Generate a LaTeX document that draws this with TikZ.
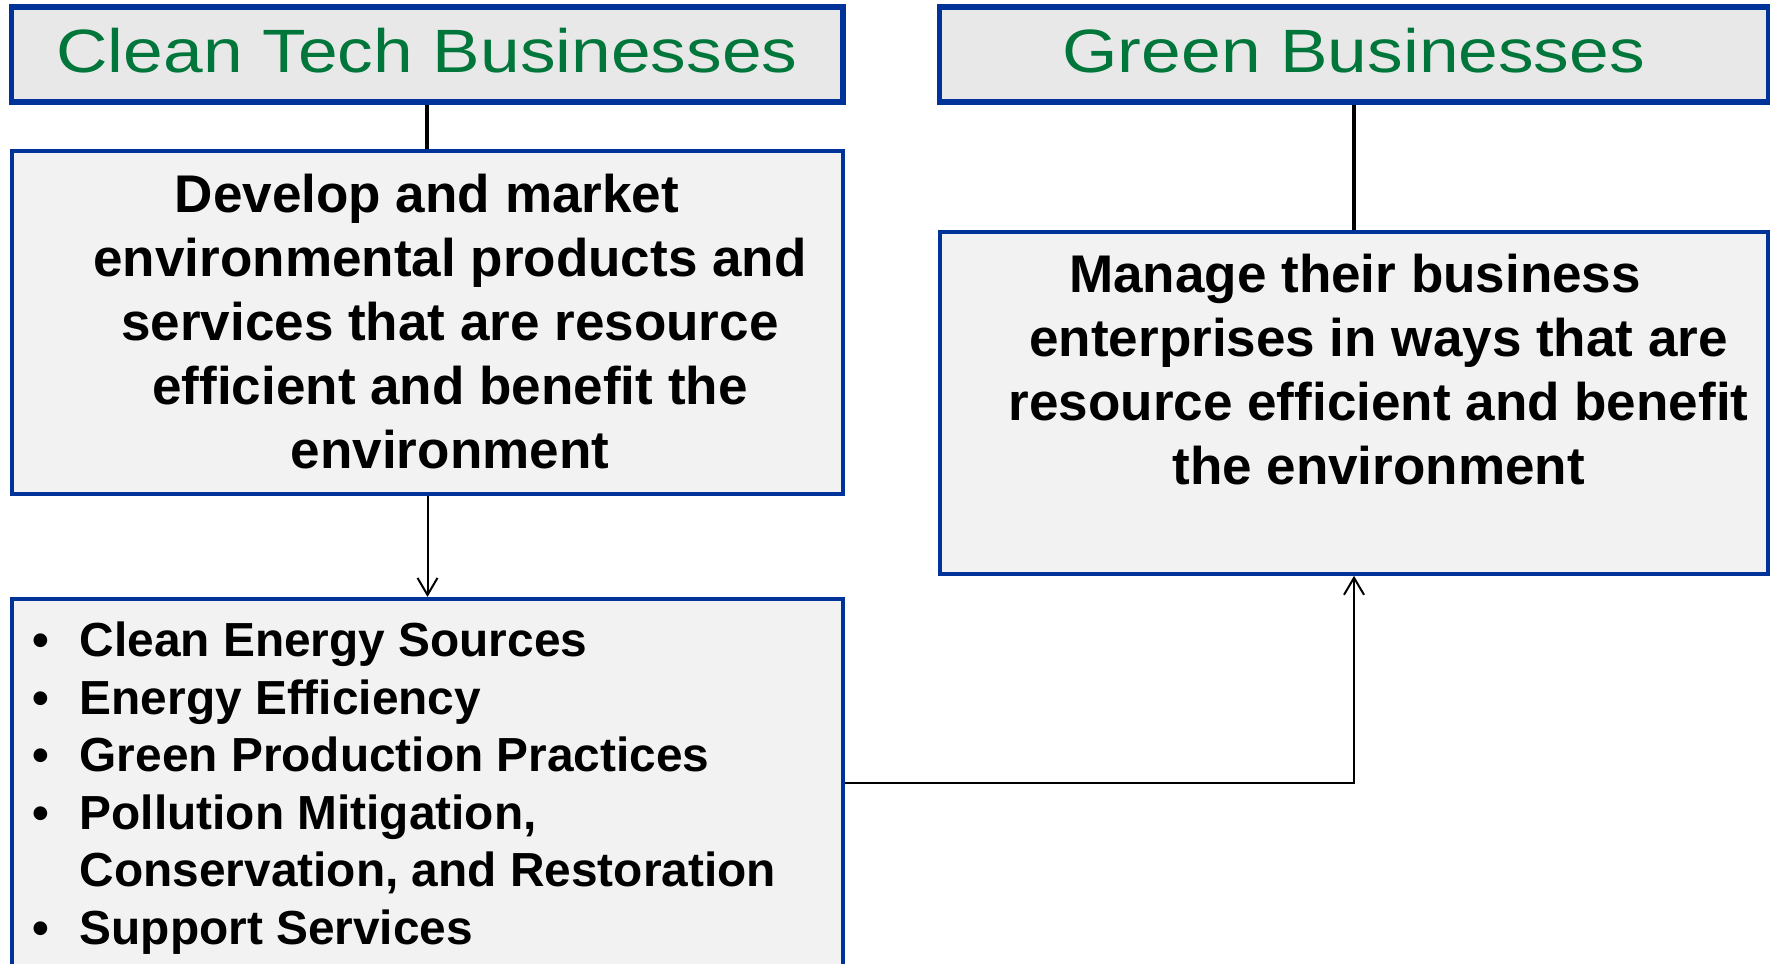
\documentclass[tikz,border=0pt]{standalone}
\usepackage{fontspec}
\setmainfont{Liberation Sans}
\newfontfamily\headfont[FakeStretch=1.165]{Liberation Sans}
\usetikzlibrary{arrows.meta}
\definecolor{boxblue}{RGB}{0,51,153}
\definecolor{headgreen}{RGB}{0,118,58}
\definecolor{headgray}{RGB}{232,232,232}
\definecolor{boxgray}{RGB}{242,242,242}
\newcommand\itemdot{\llap{\makebox[0.47cm][l]{\textbullet}}}

\begin{document}
\begin{tikzpicture}[x=0.01cm,y=-0.01cm]
\tikzstyle{every node}+=[inner sep=0pt]
\tikzstyle{headbox}=[draw=boxblue,fill=headgray,line width=0.055cm,minimum height=0.95cm,text=headgreen,font=\headfont\fontsize{17.4}{20}\selectfont,text height=0.445cm,text depth=0.09cm]
\tikzstyle{bodybox}=[draw=boxblue,fill=boxgray,line width=0.04cm,minimum width=8.31cm]
\tikzstyle{bodytext}=[anchor=north,align=center,font=\bfseries\fontsize{15.08}{18.21}\selectfont]
\tikzstyle{listtext}=[anchor=north west,align=left,font=\bfseries\fontsize{13.6}{16.39}\selectfont]
\tikzstyle{stemline}=[line width=0.04cm]
\tikzstyle{linkarrow}=[line width=0.02cm,-{Straight Barb[length=0.17cm,width=0.2cm]}]
\useasboundingbox (0,0) rectangle (1770,964);
\clip (0,0) rectangle (1770,964);
\node[headbox,minimum width=8.31cm] (cleanhead) at (427,54.5) {Clean Tech Businesses};
\node[headbox,minimum width=8.285cm] (greenhead) at (1353.75,54.5) {Green Businesses};
\node[bodybox,minimum height=3.425cm] (cleanbox) at (427.5,322.75) {};
\node[bodybox,minimum width=8.28cm,minimum height=3.417cm] (greenbox) at (1354,402.85) {};
\node[bodybox,minimum height=3.67cm] (sectorbox) at (427.5,782.5) {};
\node[bodytext] (cleantext) at (450,173.7) {Develop and market\rule{0.46cm}{0pt}\\environmental products and\\services that are resource\\efficient and benefit the\\environment};
\node[bodytext] (greentext) at (1378.6,253.7) {Manage their business\rule{0.47cm}{0pt}\\enterprises in ways that are\\resource efficient and benefit\\the environment};
\node[listtext] (sectorlist) at (79,621) {\itemdot Clean Energy Sources\\\itemdot Energy Efficiency\\\itemdot Green Production Practices\\\itemdot Pollution Mitigation,\\Conservation, and Restoration\\\itemdot Support Services};
\draw[stemline] (cleanhead.south) -- (cleanhead.south |- cleanbox.north);
\draw[stemline] (greenhead.south) -- (greenhead.south |- greenbox.north);
\draw[linkarrow] (cleanbox.south) -- (cleanbox.south |- sectorbox.north);
\draw[linkarrow] (sectorbox.east) -| (greenbox.south);
\end{tikzpicture}
\end{document}
